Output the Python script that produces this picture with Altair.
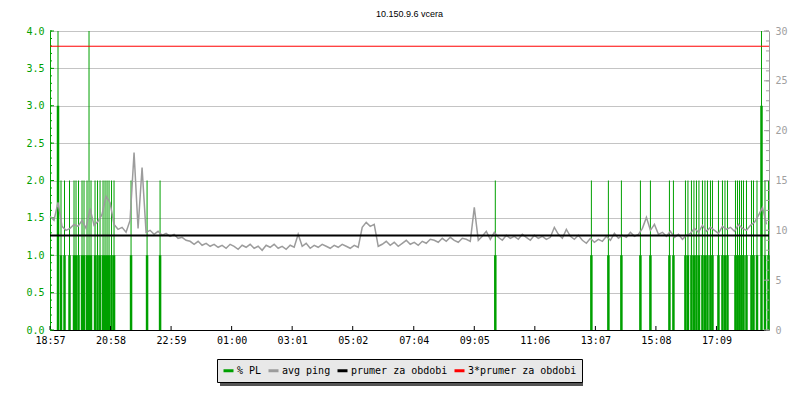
import json
import altair as alt
import pandas as pd

TITLE = "10.150.9.6 vcera"

# x-axis tick labels (clock times, one day back from 18:57)
tick_labels = ["18:57", "20:58", "22:59", "01:00", "03:01", "05:02",
               "07:04", "09:05", "11:06", "13:07", "15:08", "17:09"]

# avg ping in ms, one reading every 8 minutes starting at 18:57
ping_step_min = 8
ping_ms = [
    11.4, 11.0, 12.8, 10.4, 10.0, 10.2, 10.6, 10.4, 11.0, 10.2,
    12.2, 10.5, 10.9, 11.6, 13.4, 12.8, 10.6, 10.1, 10.3, 9.8,
    11.0, 17.8, 10.2, 16.3, 9.8, 10.0, 9.6, 9.9, 9.5, 9.7,
    9.4, 9.6, 9.2, 9.3, 9.0, 8.9, 8.6, 8.9, 8.5, 8.7,
    8.4,
    8.6, 8.3, 8.5, 8.2, 8.6, 8.4, 8.1, 8.5, 8.3, 8.6, 8.2, 8.4, 8.0, 8.5, 8.3, 8.6, 8.2, 8.4, 8.1, 8.5, 8.3,
    9.6,
    8.4, 8.7, 8.2, 8.5, 8.3, 8.6, 8.4, 8.2, 8.5, 8.3, 8.6, 8.4, 8.2, 8.5, 8.3,
    10.3, 10.8, 10.4, 10.6,
    8.4,
    8.6, 8.9, 8.5, 8.8, 8.4, 8.7, 9.0, 8.6, 8.8, 8.5, 8.9, 8.7, 9.1,
    9.0, 8.8, 9.2, 8.9, 9.3, 9.0, 8.8, 9.2, 9.1, 8.9,
    12.3,
    9.0, 9.4, 9.9, 9.1, 9.8, 9.3, 9.0, 9.5, 9.2, 9.4, 9.1, 9.6, 9.3, 9.0, 9.5, 9.2, 9.4, 9.1, 9.3, 10.3,
    9.6, 9.2, 10.1, 9.4, 9.1, 9.5,
    9.0, 8.7, 9.2, 8.8, 9.1, 8.9,
    9.4, 9.0, 9.7, 9.2, 9.5, 9.3, 9.8, 9.4, 9.6,
    10.2, 11.3, 10.0, 10.6,
    9.6, 9.8, 9.4, 9.9,
    9.3, 9.6, 9.1, 9.5, 9.7,
    10.2, 9.8, 10.5, 9.9, 10.3, 10.0, 9.7, 10.4, 10.1,
    10.3, 9.9, 10.6, 10.2, 10.0, 10.5, 10.8,
    11.5, 12.3,
    10.6,
]

# packet-loss events (% PL): time, level of the wide bar, level of the thin spike
pl_times = ["19:13", "19:19", "19:26", "19:36", "19:45", "19:49", "19:54", "20:01", "20:05",
            "20:11", "20:15", "20:19", "20:27", "20:32", "20:37", "20:43", "20:47", "20:51",
            "20:55", "21:00", "21:05", "21:39", "22:11", "22:37", "09:47", "12:59", "13:33",
            "13:59", "14:37", "14:57", "15:35", "15:43", "16:07", "16:12", "16:19", "16:24",
            "16:29", "16:34", "16:41", "16:46", "16:51", "16:57", "17:01", "17:13", "17:21",
            "17:26", "17:31", "17:47", "17:51", "17:55", "17:59", "18:03", "18:09", "18:19",
            "18:23", "18:30", "18:39", "18:46", "18:53"]
pl_bar = [3, 1, 1, 1, 1, 1, 1, 1, 1,
          1, 1, 1, 1, 1, 1, 1, 1, 1,
          1, 1, 1, 1, 1, 1, 1, 1, 1,
          1, 1, 1, 1, 1, 1, 1, 1, 1,
          1, 1, 1, 1, 1, 1, 1, 1, 1,
          1, 1, 1, 1, 1, 1, 1, 1, 1,
          1, 1, 3, 1, 1]
pl_spike = [4, 2, 2, 2, 2, 2, 2, 2, 2,
            2, 4, 2, 2, 2, 2, 2, 2, 2,
            2, 2, 2, 2, 2, 2, 2, 2, 2,
            2, 2, 2, 2, 2, 2, 2, 2, 2,
            2, 2, 2, 2, 2, 2, 2, 2, 2,
            2, 2, 2, 2, 2, 2, 2, 2, 2,
            2, 2, 4, 2, 2]

mean_ms = 9.49          # prumer za obdobi
mean3_ms = 3 * mean_ms  # 3*prumer za obdobi

series_names = ["% PL", "avg ping", "prumer za obdobi", "3*prumer za obdobi"]
series_colors = ["#00a000", "#9c9c9c", "#000000", "#ff0000"]

# ---------------------------------------------------------------------------
START = 18 * 60 + 57


def to_min(s):
    h, m = map(int, s.split(":"))
    return (h * 60 + m - START) % 1440


tick_min = [to_min(s) for s in tick_labels]
W, H = 719, 299
X_END = 1437
MONO = "DejaVu Sans Mono"
GREEN = "#00a000"
GRAY = "#a0a0a0"

pl_df = pd.DataFrame({
    "t": [to_min(s) for s in pl_times],
    "bar": pl_bar,
    "spike": pl_spike,
    "base": 0,
    "series": "% PL",
})
ping_df = pd.DataFrame({
    "t": [i * ping_step_min for i in range(len(ping_ms))],
    "ms": ping_ms,
    "series": "avg ping",
})
mean_df = pd.DataFrame({"ms": [mean_ms], "series": ["prumer za obdobi"]})
mean3_df = pd.DataFrame({"ms": [mean3_ms], "series": ["3*prumer za obdobi"]})
xtick_df = pd.DataFrame({"t": tick_min})
lmaj_df = pd.DataFrame({"v": [i * 0.5 for i in range(9)]})
lmin_df = pd.DataFrame({"v": [i / 10 for i in range(41)]})
rmaj_df = pd.DataFrame({"v": list(range(0, 31, 5))})
rmin_df = pd.DataFrame({"v": list(range(0, 31))})
shadow_df = pd.DataFrame({"a": [0]})

color_scale = alt.Scale(domain=series_names, range=series_colors)
legend = alt.Legend(
    title=None, orient="none", legendX=167, legendY=328, direction="horizontal",
    symbolType="stroke", symbolSize=100, symbolStrokeWidth=3,
    labelFont=MONO, labelFontSize=10, labelColor="black", labelOffset=2,
    columnPadding=0, padding=5, fillColor="#e8e8e8", strokeColor="black",
)


def col():
    return alt.Color("series:N", scale=color_scale, legend=legend)


label_expr = f"{json.dumps(tick_labels)}[indexof({json.dumps(tick_min)}, datum.value)]"
x_axis = alt.Axis(values=tick_min, labelExpr=label_expr, tickSize=0, domainColor="black",
                  labelFont=MONO, labelFontSize=10, labelColor="black", labelPadding=5,
                  grid=False, title=None, labelFlush=False, labelOverlap=False)
x_scale = alt.Scale(domain=[0, X_END], nice=False, zero=False)


def xq():
    return alt.X("t:Q", scale=x_scale, axis=x_axis)


left_axis = alt.Axis(values=[i * 0.5 for i in range(9)], format=".1f", tickSize=0,
                     domainColor=GREEN, labelColor=GREEN, labelFont=MONO, labelFontSize=10,
                     labelPadding=6, grid=True, gridColor="#c4c4c4", title=None,
                     labelFlush=False)
left_scale = alt.Scale(domain=[0, 4], nice=False)
right_axis = alt.Axis(orient="right", values=list(range(0, 31, 5)), tickSize=0,
                      domainColor=GRAY, labelColor=GRAY, labelFont=MONO, labelFontSize=10,
                      labelPadding=6, grid=False, title=None, labelFlush=False)
right_scale = alt.Scale(domain=[0, 30], nice=False)


def yl(field):
    return alt.Y(field, type="quantitative", scale=left_scale, axis=left_axis)


def yr(field):
    return alt.Y(field, type="quantitative", scale=right_scale, axis=right_axis)


shadow = alt.Chart(shadow_df).mark_rect(color="#555555").encode(
    x=alt.value(170), x2=alt.value(533), y=alt.value(331), y2=alt.value(355)
)
bars = alt.Chart(pl_df).mark_rule(strokeWidth=2.5).encode(
    x=xq(), y=yl("bar"), y2="base", color=col()
)
spikes = alt.Chart(pl_df).mark_rule(strokeWidth=1).encode(
    x=xq(), y=yl("spike"), y2="base", color=col()
)
xticks = alt.Chart(xtick_df).mark_rule(color="black").encode(
    x=xq(), y=alt.value(H), y2=alt.value(H - 4)
)
lmaj = alt.Chart(lmaj_df).mark_rule(color=GREEN).encode(
    y=yl("v"), x=alt.value(0), x2=alt.value(4)
)
lmin = alt.Chart(lmin_df).mark_rule(color=GREEN).encode(
    y=yl("v"), x=alt.value(0), x2=alt.value(2)
)
left = alt.layer(shadow, bars, spikes, xticks, lmin, lmaj)

ping = alt.Chart(ping_df).mark_line(strokeWidth=1.5, interpolate="linear").encode(
    x=xq(), y=yr("ms"), color=col()
)
mean_line = alt.Chart(mean_df).mark_rule(strokeWidth=2).encode(
    y=yr("ms"), x=alt.value(0), x2=alt.value(W), color=col()
)
mean3_line = alt.Chart(mean3_df).mark_rule(strokeWidth=1).encode(
    y=yr("ms"), x=alt.value(0), x2=alt.value(W), color=col()
)
rmaj = alt.Chart(rmaj_df).mark_rule(color=GRAY).encode(
    y=yr("v"), x=alt.value(W), x2=alt.value(W - 5)
)
rmin = alt.Chart(rmin_df).mark_rule(color=GRAY).encode(
    y=yr("v"), x=alt.value(W), x2=alt.value(W - 3)
)
right = alt.layer(ping, mean_line, mean3_line, rmin, rmaj)

chart = alt.layer(left, right).resolve_scale(y="independent").properties(
    width=W, height=H,
    padding={"left": 42, "top": 23, "right": 23, "bottom": 62},
    autosize=alt.AutoSizeParams(type="none"),
    title=alt.TitleParams(TITLE, font="Liberation Sans", fontSize=9, fontWeight="normal",
                          color="black", anchor="middle", baseline="alphabetic", offset=0),
).configure_view(stroke=None)

chart.save("out.html", embed_options={"renderer": "svg", "actions": False})
